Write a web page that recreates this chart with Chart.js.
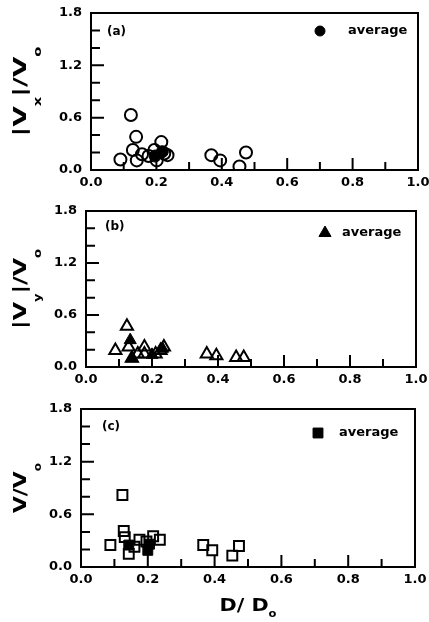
<!DOCTYPE html>
<html>
<head>
<meta charset="utf-8">
<script src="https://cdn.jsdelivr.net/npm/chart.js@4.4.1/dist/chart.umd.min.js"></script>
<style>
body { margin: 0; background: #fff; }
#wrap { position: relative; width: 429px; height: 622px; }
canvas { position: absolute; left: 0; }
</style>
</head>
<body>
<div id="wrap">
  <canvas id="chartA" width="429" height="200" style="top:0"></canvas>
  <canvas id="chartB" width="429" height="200" style="top:200px"></canvas>
  <canvas id="chartC" width="429" height="222" style="top:400px"></canvas>
</div>
<script>
// (a) |Vx|/Vo vs D/Do
const circX = [0.090, 0.122, 0.138, 0.128, 0.140, 0.156, 0.176, 0.194, 0.201, 0.215, 0.224, 0.234, 0.368, 0.395, 0.454, 0.474];
const circY = [0.12, 0.63, 0.38, 0.23, 0.11, 0.18, 0.16, 0.23, 0.11, 0.32, 0.19, 0.17, 0.17, 0.11, 0.04, 0.20];
const circAvgX = [0.196, 0.218];
const circAvgY = [0.16, 0.21];

// (b) |Vy|/Vo vs D/Do
const triX = [0.089, 0.124, 0.129, 0.139, 0.157, 0.177, 0.177, 0.211, 0.226, 0.236, 0.366, 0.395, 0.455, 0.478];
const triY = [0.19, 0.47, 0.23, 0.10, 0.15, 0.23, 0.15, 0.15, 0.19, 0.23, 0.15, 0.13, 0.11, 0.11];
const triAvgX = [0.134, 0.140, 0.200, 0.232];
const triAvgY = [0.31, 0.10, 0.14, 0.21];

// (c) V/Vo vs D/Do
const sqX = [0.088, 0.124, 0.128, 0.131, 0.143, 0.160, 0.175, 0.196, 0.216, 0.236, 0.366, 0.393, 0.453, 0.473];
const sqY = [0.25, 0.82, 0.41, 0.34, 0.15, 0.23, 0.31, 0.29, 0.35, 0.31, 0.25, 0.19, 0.13, 0.24];
const sqAvgX = [0.143, 0.200, 0.205];
const sqAvgY = [0.25, 0.19, 0.26];

// axis ticks
const X_TICKS = [0, 0.2, 0.4, 0.6, 0.8, 1.0];
const X_MINOR = [0.1, 0.3, 0.5, 0.7, 0.9];
const Y_TICKS = [0, 0.6, 1.2, 1.8];
const Y_MINOR = [0.2, 0.4, 0.8, 1.0, 1.4, 1.6];

const TICK_FONT = { family: 'DejaVu Sans', size: 13, weight: 'bold' };
const MAIN_FONT = 'bold 18px "DejaVu Sans"';
const SUB_FONT = 'bold 10px "DejaVu Sans"';

const pts = (xs, ys) => xs.map((v, i) => ({ x: v, y: ys[i] }));

// rich text with subscripts, stretched to a given length
function drawRich(ctx, parts, x, y, angle, len, drop) {
    ctx.save();
    ctx.translate(x, y);
    ctx.rotate(angle);
    let total = 0;
    parts.forEach(p => { ctx.font = p.sub ? SUB_FONT : MAIN_FONT; total += ctx.measureText(p.t).width; });
    ctx.scale(len / total, 1);
    ctx.textAlign = 'left';
    ctx.textBaseline = 'alphabetic';
    let cx = -total / 2;
    parts.forEach(p => {
        ctx.font = p.sub ? SUB_FONT : MAIN_FONT;
        ctx.fillText(p.t, cx, p.sub ? drop : 0);
        cx += ctx.measureText(p.t).width;
    });
    ctx.restore();
}

const framePlugin = {
    id: 'frame',
    afterDraw(chart, args, o) {
        const { ctx, chartArea: a, scales: { x, y } } = chart;
        ctx.save();
        ctx.strokeStyle = '#000';
        ctx.fillStyle = '#000';
        ctx.lineWidth = 2;
        ctx.strokeRect(a.left, a.top, a.right - a.left, a.bottom - a.top);

        // inward tick marks
        ctx.beginPath();
        X_TICKS.concat(X_MINOR).forEach(v => {
            if (v <= 0 || v >= 1) return;
            const px = x.getPixelForValue(v);
            const l = X_TICKS.includes(v) ? 12 : 8;
            ctx.moveTo(px, a.bottom);
            ctx.lineTo(px, a.bottom - l);
        });
        Y_TICKS.concat(Y_MINOR).forEach(v => {
            if (v <= 0 || v >= 1.8) return;
            const py = y.getPixelForValue(v);
            const l = Y_TICKS.includes(v) ? 13 : 9;
            ctx.moveTo(a.left, py);
            ctx.lineTo(a.left + l, py);
        });
        ctx.stroke();

        // panel tag
        ctx.font = 'bold 12px "DejaVu Sans"';
        ctx.textAlign = 'left';
        ctx.textBaseline = 'middle';
        ctx.fillText(o.tag, o.tagX, o.tagY);

        // legend
        ctx.lineWidth = 1;
        Chart.helpers.drawPoint(ctx, { pointStyle: o.style, radius: o.r, rotation: 0, borderWidth: 1 }, o.legX, o.legY);
        ctx.font = 'bold 13px "DejaVu Sans"';
        ctx.fillText('average', o.legX + o.legGap, o.legY);

        // axis titles
        drawRich(ctx, o.yTitle, 26, (a.top + a.bottom) / 2, -Math.PI / 2, o.yTitleLen, 15);
        if (o.xTitle) drawRich(ctx, o.xTitle, (a.left + a.right) / 2, o.xTitleY, 0, 57, 6);
        ctx.restore();
    }
};

function makeChart(id, openPts, avgPts, style, r, box, frame) {
    return new Chart(document.getElementById(id).getContext('2d'), {
        type: 'scatter',
        data: {
            datasets: [
                { data: avgPts, pointStyle: style, pointRadius: r, backgroundColor: '#000', borderColor: '#000', borderWidth: 1 },
                { data: openPts, pointStyle: style, pointRadius: r, backgroundColor: 'rgba(0,0,0,0)', borderColor: '#000', borderWidth: 2 }
            ]
        },
        options: {
            responsive: false,
            animation: false,
            devicePixelRatio: 1,
            layout: { padding: { left: 0, right: box.right, top: box.top, bottom: 0 } },
            plugins: { legend: { display: false }, tooltip: { enabled: false }, frame: frame },
            scales: {
                x: {
                    type: 'linear', min: 0, max: 1,
                    afterBuildTicks: s => { s.ticks = X_TICKS.map(v => ({ value: v })); },
                    afterFit: s => { s.height = box.xh; s.paddingLeft = 0; s.paddingRight = 0; },
                    ticks: { font: TICK_FONT, color: '#000', padding: 5, maxRotation: 0, autoSkip: false, callback: v => v.toFixed(1) },
                    grid: { display: false, drawTicks: false },
                    border: { display: false }
                },
                y: {
                    type: 'linear', min: 0, max: 1.8,
                    afterBuildTicks: s => { s.ticks = Y_TICKS.map(v => ({ value: v })); },
                    afterFit: s => { s.width = box.yw; s.paddingTop = 0; s.paddingBottom = 0; },
                    ticks: { font: TICK_FONT, color: '#000', padding: 9, autoSkip: false, callback: v => v.toFixed(1) },
                    grid: { display: false, drawTicks: false },
                    border: { display: false }
                }
            }
        },
        plugins: [framePlugin]
    });
}

makeChart('chartA', pts(circX, circY), pts(circAvgX, circAvgY), 'circle', 6,
    { right: 11, top: 13, xh: 30, yw: 91 },
    { tag: '(a)', tagX: 107, tagY: 32, style: 'circle', r: 5, legX: 320, legY: 31, legGap: 28,
      yTitle: [{ t: '|V' }, { t: 'x', sub: true }, { t: '|/V' }, { t: 'o', sub: true }], yTitleLen: 90 });

makeChart('chartB', pts(triX, triY), pts(triAvgX, triAvgY), 'triangle', 7,
    { right: 13, top: 11, xh: 33, yw: 86 },
    { tag: '(b)', tagX: 105, tagY: 27, style: 'triangle', r: 7, legX: 325, legY: 33, legGap: 17,
      yTitle: [{ t: '|V' }, { t: 'y', sub: true }, { t: '|/V' }, { t: 'o', sub: true }], yTitleLen: 80 });

makeChart('chartC', pts(sqX, sqY), pts(sqAvgX, sqAvgY), 'rect', 7,
    { right: 14, top: 9, xh: 55, yw: 81 },
    { tag: '(c)', tagX: 102, tagY: 27, style: 'rect', r: 7, legX: 318, legY: 33, legGap: 21,
      yTitle: [{ t: 'V/V' }, { t: 'o', sub: true }], yTitleLen: 50,
      xTitle: [{ t: 'D/ D' }, { t: 'o', sub: true }], xTitleY: 211 });
</script>
</body>
</html>
